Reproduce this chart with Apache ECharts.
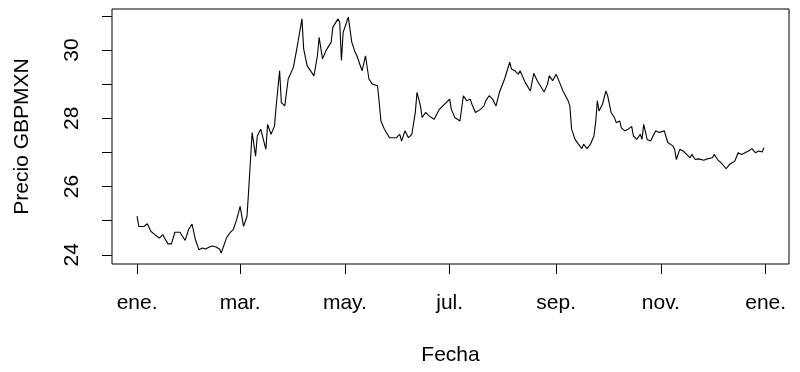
<!DOCTYPE html>
<html>
<head>
<meta charset="utf-8">
<script src="https://cdn.jsdelivr.net/npm/echarts@6/dist/echarts.min.js"></script>
<style>html,body{margin:0;padding:0;background:#fff}#c{width:800px;height:372px}</style>
</head>
<body>
<div id="c"></div>
<script>
const dates = [
'2020-01-01','2020-01-02','2020-01-05','2020-01-07','2020-01-09','2020-01-12','2020-01-14','2020-01-16','2020-01-17','2020-01-19',
'2020-01-21','2020-01-23','2020-01-26','2020-01-27','2020-01-29','2020-01-31','2020-02-02','2020-02-04','2020-02-06','2020-02-08',
'2020-02-10','2020-02-12','2020-02-14','2020-02-16','2020-02-18','2020-02-19','2020-02-22','2020-02-24','2020-02-26','2020-02-28',
'2020-03-01','2020-03-03','2020-03-05','2020-03-06','2020-03-08','2020-03-10','2020-03-11','2020-03-13','2020-03-16','2020-03-17',
'2020-03-19','2020-03-21','2020-03-22','2020-03-24','2020-03-25','2020-03-27','2020-03-29','2020-04-01','2020-04-03','2020-04-06',
'2020-04-07','2020-04-09','2020-04-13','2020-04-15','2020-04-16','2020-04-18','2020-04-20','2020-04-23','2020-04-24','2020-04-27',
'2020-04-28','2020-04-29','2020-04-30','2020-05-03','2020-05-05','2020-05-07','2020-05-08','2020-05-11','2020-05-13','2020-05-15',
'2020-05-17','2020-05-20','2020-05-21','2020-05-22','2020-05-24','2020-05-27','2020-05-31','2020-06-02','2020-06-03','2020-06-05',
'2020-06-07','2020-06-09','2020-06-11','2020-06-12','2020-06-14','2020-06-15','2020-06-17','2020-06-19','2020-06-22','2020-06-25',
'2020-06-27','2020-06-29','2020-07-01','2020-07-02','2020-07-04','2020-07-07','2020-07-09','2020-07-11','2020-07-13','2020-07-14',
'2020-07-16','2020-07-19','2020-07-21','2020-07-22','2020-07-24','2020-07-26','2020-07-28','2020-07-30','2020-08-02','2020-08-05',
'2020-08-06','2020-08-08','2020-08-10','2020-08-11','2020-08-14','2020-08-17','2020-08-19','2020-08-21','2020-08-25','2020-08-27',
'2020-08-28','2020-08-30','2020-09-01','2020-09-03','2020-09-05','2020-09-08','2020-09-09','2020-09-10','2020-09-12','2020-09-14',
'2020-09-16','2020-09-17','2020-09-19','2020-09-21','2020-09-23','2020-09-24','2020-09-25','2020-09-26','2020-09-28','2020-09-30',
'2020-10-01','2020-10-03','2020-10-05','2020-10-06','2020-10-08','2020-10-09','2020-10-11','2020-10-13','2020-10-15','2020-10-16',
'2020-10-18','2020-10-20','2020-10-21','2020-10-22','2020-10-24','2020-10-26','2020-10-29','2020-10-31','2020-11-03','2020-11-05',
'2020-11-06','2020-11-08','2020-11-09','2020-11-10','2020-11-12','2020-11-14','2020-11-16','2020-11-18','2020-11-19','2020-11-21',
'2020-11-23','2020-11-26','2020-11-28','2020-11-29','2020-12-01','2020-12-02','2020-12-04','2020-12-06','2020-12-09','2020-12-11',
'2020-12-14','2020-12-16','2020-12-18','2020-12-20','2020-12-22','2020-12-24','2020-12-26','2020-12-28','2020-12-30','2020-12-31'
];
const prices = [
25.13,24.83,24.83,24.91,24.69,24.56,24.49,24.59,24.49,24.32,
24.32,24.66,24.66,24.69,24.42,24.74,24.90,24.44,24.15,24.20,
24.17,24.23,24.26,24.23,24.17,24.05,24.49,24.64,24.74,25.03,
25.42,24.83,25.13,25.91,27.58,26.89,27.48,27.68,27.09,27.82,
27.53,27.77,28.36,29.39,28.46,28.36,29.15,29.49,30.03,30.91,
30.03,29.54,29.24,29.83,30.37,29.74,29.98,30.23,30.67,30.91,
30.81,29.69,30.52,30.96,30.23,29.93,29.83,29.39,29.83,29.15,
29.00,28.95,28.46,27.92,27.68,27.43,27.43,27.53,27.33,27.63,
27.43,27.53,28.17,28.76,28.36,28.02,28.17,28.07,27.97,28.26,
28.36,28.46,28.56,28.26,28.02,27.92,28.66,28.51,28.56,28.41,
28.17,28.26,28.36,28.51,28.66,28.56,28.36,28.76,29.15,29.64,
29.44,29.39,29.29,29.39,29.05,28.80,29.32,29.10,28.77,29.00,
29.24,29.10,29.29,29.05,28.80,28.51,28.36,27.68,27.38,27.24,
27.11,27.24,27.11,27.24,27.48,27.87,28.51,28.21,28.41,28.80,
28.66,28.17,28.02,27.87,27.92,27.72,27.63,27.68,27.76,27.48,
27.38,27.53,27.38,27.82,27.38,27.33,27.63,27.58,27.63,27.29,
27.24,27.19,27.09,26.79,27.09,27.04,26.94,26.84,26.94,26.79,
26.81,26.77,26.81,26.77,26.84,26.94,26.79,26.70,26.52,26.65,
26.74,26.99,26.94,26.99,27.04,27.11,26.99,27.04,27.01,27.14
];
const xTickDates = ['2020-01-01','2020-03-01','2020-05-01','2020-07-01','2020-09-01','2020-11-01','2021-01-01'];
const xTickLabels = ['ene.','mar.','may.','jul.','sep.','nov.','ene.'];
const yTicks = [24,25,26,27,28,29,30,31];
const yLabels = [24,26,28,30];
const xTitle = 'Fecha';
const yTitle = 'Precio GBPMXN';

const toMs = s => new Date(s + 'T00:00:00Z').getTime();
const t0 = toMs(dates[0]), t1 = toMs(dates[dates.length-1]);
const ext = (t1 - t0) * 0.04;
const xTickMs = xTickDates.map(toMs);
const labelMap = {};
xTickMs.forEach((m,i)=>{labelMap[m]=xTickLabels[i];});

const font = '"Liberation Sans", Arial, sans-serif';
const chart = echarts.init(document.getElementById('c'), null, {renderer:'canvas'});
chart.setOption({
  animation:false,
  backgroundColor:'#fff',
  grid:{left:112,right:11,top:9,bottom:108,show:true,borderColor:'#000',borderWidth:1,backgroundColor:'transparent'},
  xAxis:{
    type:'value', min:t0-ext, max:t1+ext, scale:true,
    name:xTitle, nameLocation:'middle', nameGap:81,
    nameTextStyle:{fontFamily:font,fontSize:21,color:'#000'},
    axisLine:{show:false},
    splitLine:{show:false},
    axisTick:{show:true,length:10,lineStyle:{color:'#000',width:1},customValues:xTickMs},
    axisLabel:{customValues:xTickMs,formatter:v=>labelMap[v]||'',fontFamily:font,fontSize:21,color:'#000',margin:29}
  },
  yAxis:{
    type:'value', min:23.73, max:31.2,
    name:yTitle, nameLocation:'middle', nameGap:79, nameRotate:90,
    nameTextStyle:{fontFamily:font,fontSize:21,color:'#000'},
    axisLine:{show:false},
    splitLine:{show:false},
    axisTick:{show:true,length:10,lineStyle:{color:'#000',width:1},customValues:yTicks},
    axisLabel:{customValues:yLabels,rotate:90,fontFamily:font,fontSize:21,color:'#000',margin:29}
  },
  series:[{
    type:'line',
    data:dates.map((d,i)=>[toMs(d),prices[i]]),
    showSymbol:false, symbol:'none',
    lineStyle:{color:'#000',width:1.1},
    silent:true
  }]
});
</script>
</body>
</html>
